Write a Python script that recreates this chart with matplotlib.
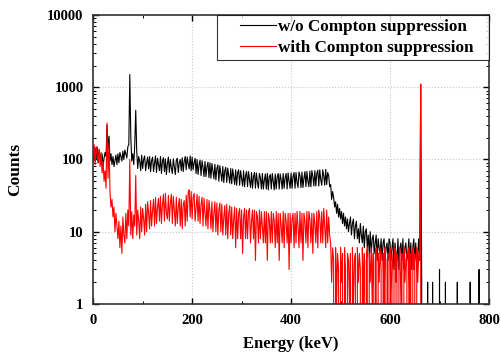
import numpy as np
import matplotlib.pyplot as plt
from matplotlib.ticker import FixedLocator, LogLocator, NullFormatter, MultipleLocator

plt.rcParams['font.family'] = 'Liberation Serif'
plt.rcParams['font.weight'] = 'bold'

# energy channels, 2 keV wide, 0 .. 798 keV
energy = np.arange(0, 800, 2)

# counts without Compton suppression (20 channels per row = 40 keV)
counts_wo = np.array(
    [130, 95, 145, 100, 150, 90, 135, 115, 85, 120, 80, 105, 125, 110, 300, 140, 210, 95, 120, 85] +
    [110, 80, 95, 115, 85, 120, 90, 125, 110, 95, 130, 100, 135, 120, 105, 150, 160, 1500, 210, 95] +
    [120, 85, 160, 480, 130, 75, 110, 95, 70, 115, 75, 100, 112, 70, 90, 108, 74, 110, 68, 96] +
    [108, 68, 90, 112, 66, 104, 85, 70, 110, 64, 95, 106, 68, 102, 62, 88, 108, 66, 100, 76] +
    [64, 102, 80, 62, 98, 104, 66, 90, 100, 70, 106, 68, 95, 110, 72, 108, 88, 74, 112, 70] +
    [108, 72, 90, 104, 64, 100, 62, 85, 98, 60, 96, 78, 58, 94, 58, 80, 92, 56, 90, 55] +
    [88, 70, 54, 86, 52, 75, 84, 50, 82, 64, 50, 80, 48, 70, 78, 48, 76, 60, 47, 75] +
    [46, 74, 58, 45, 72, 44, 66, 72, 44, 70, 55, 43, 70, 42, 60, 68, 42, 68, 52, 41] +
    [66, 40, 58, 66, 40, 65, 48, 40, 64, 56, 39, 64, 39, 52, 63, 39, 64, 38, 58, 62] +
    [39, 64, 50, 38, 63, 39, 58, 64, 39, 63, 52, 39, 64, 40, 56, 64, 39, 65, 50, 40] +
    [65, 40, 58, 66, 40, 66, 48, 41, 67, 60, 41, 67, 41, 55, 68, 42, 68, 50, 42, 69] +
    [42, 70, 58, 43, 70, 43, 64, 71, 43, 72, 52, 44, 72, 60, 44, 73, 45, 66, 60, 42] +
    [45, 28, 36, 30, 22, 26, 18, 24, 16, 21, 15, 19, 13, 18, 12, 16, 11, 15, 10, 13] +
    [16, 9, 13, 15, 8, 12, 14, 8, 11, 7, 13, 9, 7, 12, 6, 10, 11, 6, 9, 5] +
    [10, 5, 8, 9, 5, 7, 9, 4, 8, 6, 5, 8, 4, 7, 8, 4, 6, 7, 4, 8] +
    [7, 4, 6, 8, 3, 7, 5, 4, 8, 3, 6, 7, 4, 8, 3, 6, 7, 4, 5, 8] +
    [4, 7, 3, 6, 8, 4, 7, 3, 5, 8, 4, 1100, 2, 0, 0, 0, 0, 0, 2, 0] +
    [0, 0, 0, 2, 0, 0, 0, 0, 0, 0, 3, 0, 0, 0, 0, 0, 2, 0, 0, 0] +
    [0, 0, 0, 0, 0, 0, 0, 0, 2, 0, 0, 0, 0, 0, 0, 0, 0, 0, 0, 0] +
    [0, 2, 0, 0, 0, 0, 0, 0, 0, 0, 3, 0, 0, 0, 0, 0, 0, 0, 0, 0], dtype=float)

# counts with Compton suppression
counts_with = np.array(
    [100, 160, 85, 150, 120, 90, 140, 80, 125, 65, 95, 50, 70, 40, 320, 55, 170, 35, 22, 28] +
    [16, 22, 10, 18, 12, 8, 14, 6, 12, 5, 16, 9, 7, 18, 8, 20, 12, 100, 9, 19] +
    [8, 17, 12, 60, 9, 20, 14, 8, 22, 10, 21, 15, 9, 24, 10, 26, 18, 11, 27, 12] +
    [20, 28, 12, 30, 13, 22, 29, 14, 31, 13, 24, 33, 14, 34, 18, 15, 32, 14, 25, 33] +
    [13, 31, 20, 12, 30, 13, 22, 29, 12, 28, 11, 24, 27, 12, 32, 14, 35, 38, 16, 36] +
    [15, 30, 34, 14, 22, 33, 14, 31, 13, 24, 30, 12, 29, 18, 12, 28, 11, 27, 20, 11] +
    [26, 10, 18, 26, 10, 25, 9, 20, 25, 10, 24, 9, 16, 23, 9, 24, 8, 18, 23, 9] +
    [22, 8, 15, 22, 6, 21, 8, 18, 21, 8, 20, 5, 16, 21, 8, 20, 8, 19, 21, 7] +
    [14, 20, 8, 20, 4, 19, 16, 7, 20, 8, 19, 12, 7, 19, 7, 19, 4, 18, 15, 7] +
    [19, 7, 18, 14, 6, 19, 7, 18, 4, 18, 12, 7, 19, 6, 18, 14, 7, 18, 3, 18] +
    [7, 15, 18, 6, 18, 7, 19, 12, 6, 19, 7, 18, 4, 18, 14, 7, 19, 6, 19, 15] +
    [7, 18, 5, 18, 13, 7, 19, 6, 20, 16, 7, 19, 7, 21, 12, 6, 20, 7, 16, 9] +
    [7, 2, 6, 4, 0, 6, 1, 5, 3, 0, 6, 2, 5, 0, 6, 3, 0, 5, 4, 1] +
    [5, 0, 6, 1, 4, 5, 0, 6, 2, 5, 3, 0, 6, 1, 5, 0, 4, 6, 0, 5] +
    [2, 6, 1, 5, 0, 4, 6, 0, 5, 2, 6, 3, 0, 5, 1, 6, 0, 4, 5, 0] +
    [6, 1, 5, 3, 0, 6, 2, 5, 0, 4, 6, 1, 5, 0, 6, 2, 4, 5, 0, 6] +
    [1, 5, 0, 6, 3, 5, 0, 6, 2, 5, 4, 1100, 0, 0, 0, 0, 0, 0, 0, 0] +
    [0] * 60, dtype=float)

fig = plt.figure(figsize=(5.01, 3.58), dpi=100)
ax = fig.add_axes([0.186, 0.151, 0.790, 0.807])

ax.plot(energy, counts_wo, color='black', lw=0.8, label='w/o Compton suppression')
ax.plot(energy, counts_with, color='red', lw=0.8, label='with Compton suppression')

ax.set_yscale('log', nonpositive='clip')
ax.set_xlim(0, 800)
ax.set_ylim(1, 10000)

ax.xaxis.set_major_locator(MultipleLocator(200))
ax.xaxis.set_minor_locator(MultipleLocator(100))
ax.yaxis.set_major_locator(FixedLocator([1, 10, 100, 1000, 10000]))
ax.yaxis.set_minor_locator(LogLocator(base=10, subs=np.arange(2, 10)))
ax.yaxis.set_minor_formatter(NullFormatter())
ax.set_yticklabels(['1', '10', '100', '1000', '10000'])

ax.tick_params(which='both', direction='in', top=True, right=True, labelsize=10.5)
ax.tick_params(which='major', length=4, width=1)
ax.tick_params(which='minor', length=2, width=0.7)
ax.tick_params(axis='x', pad=7)
ax.tick_params(axis='y', pad=7)
ax.grid(True, which='major', color='#c8c8c8', linestyle=':', lw=0.8)

for s in ax.spines.values():
    s.set_linewidth(1.2)
    s.set_color('#333333')

ax.set_xlabel('Energy (keV)', fontsize=12, fontweight='bold')
ax.set_ylabel('Counts', fontsize=12.5, fontweight='bold')
ax.xaxis.set_label_coords(0.5, -0.112)
ax.yaxis.set_label_coords(-0.177, 0.467)

# legend box spans from x~217px to the right spine, as in the source figure
leg = ax.legend(loc='upper right', bbox_to_anchor=(0.313, 0.0, 0.687, 1.0), mode='expand',
                borderaxespad=0, fancybox=False, fontsize=12.3,
                handlelength=3.2, handletextpad=0.1, borderpad=0.25, labelspacing=0.25)
leg.get_frame().set_edgecolor('black')
leg.get_frame().set_linewidth(0.8)
for line in leg.get_lines():
    xd = np.asarray(line.get_xdata(), dtype=float)
    line.set_xdata([xd[0] + 0.35 * (xd[-1] - xd[0]), xd[-1]])
    line.set_ydata(np.asarray(line.get_ydata(), dtype=float)[[0, -1]])

plt.savefig('out.png', dpi=100)
